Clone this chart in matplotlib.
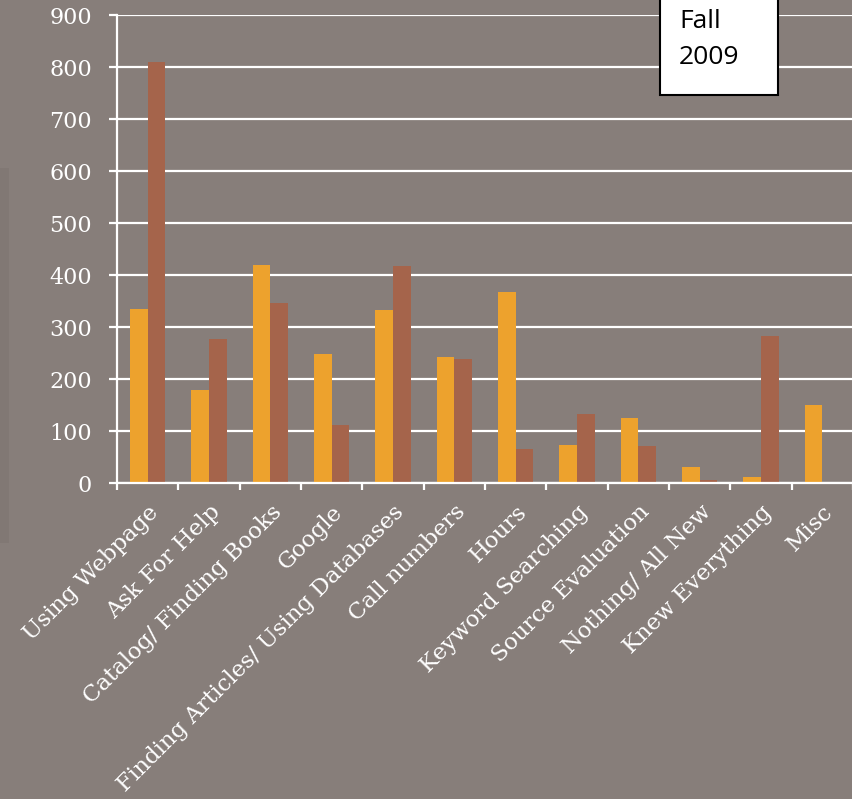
import numpy as np
import matplotlib
matplotlib.use("Agg")
import matplotlib.pyplot as plt
from matplotlib.patches import Rectangle

# values
categories = [
    "Using Webpage",
    "Ask For Help",
    "Catalog/ Finding Books",
    "Google",
    "Finding Articles/ Using Databases",
    "Call numbers",
    "Hours",
    "Keyword Searching",
    "Source Evaluation",
    "Nothing/ All New",
    "Knew Everything",
    "Misc",
]
series_a = [334, 178, 419, 248, 332, 243, 367, 73, 125, 31, 11, 150]
series_b = [809, 277, 347, 111, 418, 238, 66, 133, 72, 6, 282, 0]
y_ticks = [0, 100, 200, 300, 400, 500, 600, 700, 800, 900]

bg = "#877e7a"
orange = "#eda22d"
brown = "#a5644b"

plt.rcParams["font.family"] = ["DejaVu Serif"]

fig = plt.figure(figsize=(8.52, 7.99), dpi=100, facecolor=bg)
# slightly darker strip along the left edge of the slide
fig.patches.append(Rectangle((0, 0.32), 0.011, 0.47, transform=fig.transFigure,
                             facecolor="#817874", edgecolor="none", zorder=0))

ax = fig.add_axes([117 / 852, 316 / 799, 736 / 852, 468 / 799])
ax.set_facecolor("none")

x = np.arange(len(categories))
w = 0.29
ax.bar(x - w / 2, series_a, width=w, color=orange, zorder=3)
ax.bar(x + w / 2, series_b, width=w, color=brown, zorder=3)

ax.set_xlim(-0.5, len(categories) - 0.5)
ax.set_ylim(0, 900)
ax.set_yticks(y_ticks)
ax.set_yticklabels([str(v) for v in y_ticks])
ax.yaxis.grid(True, color="white", linewidth=1.6, zorder=1)
ax.set_axisbelow(True)

for side in ["top", "right"]:
    ax.spines[side].set_visible(False)
for side in ["left", "bottom"]:
    ax.spines[side].set_color("white")
    ax.spines[side].set_linewidth(1.6)
    ax.spines[side].set_zorder(4)

ax.tick_params(axis="y", direction="out", length=6, width=1.6,
               color="white", labelcolor="white", labelsize=16, pad=12)

# category labels at bar group centres, tick marks at group boundaries
ax.set_xticks(x)
ax.set_xticklabels(categories, rotation=45, ha="right", va="top",
                   rotation_mode="anchor", fontsize=16.5, color="white")
ax.tick_params(axis="x", which="major", length=0, pad=13)
ax.set_xticks(np.arange(-0.5, len(categories), 1.0), minor=True)
ax.tick_params(axis="x", which="minor", direction="out", length=5,
               width=1.6, color="white")

# "Fall 2009" text box
fig.patches.append(Rectangle((660 / 852, 1 - 95 / 799), 118 / 852, 97 / 799,
                             transform=fig.transFigure, facecolor="white",
                             edgecolor="black", linewidth=1.5, zorder=10))
fig.text(679 / 852, 1 - 22 / 799, "Fall", family="Open Sans",
         fontsize=19, color="black", ha="left", va="center", zorder=11)
fig.text(679 / 852, 1 - 58 / 799, "2009", family="Open Sans",
         fontsize=19, color="black", ha="left", va="center", zorder=11)

fig.savefig("out.png", dpi=100, facecolor=bg)
